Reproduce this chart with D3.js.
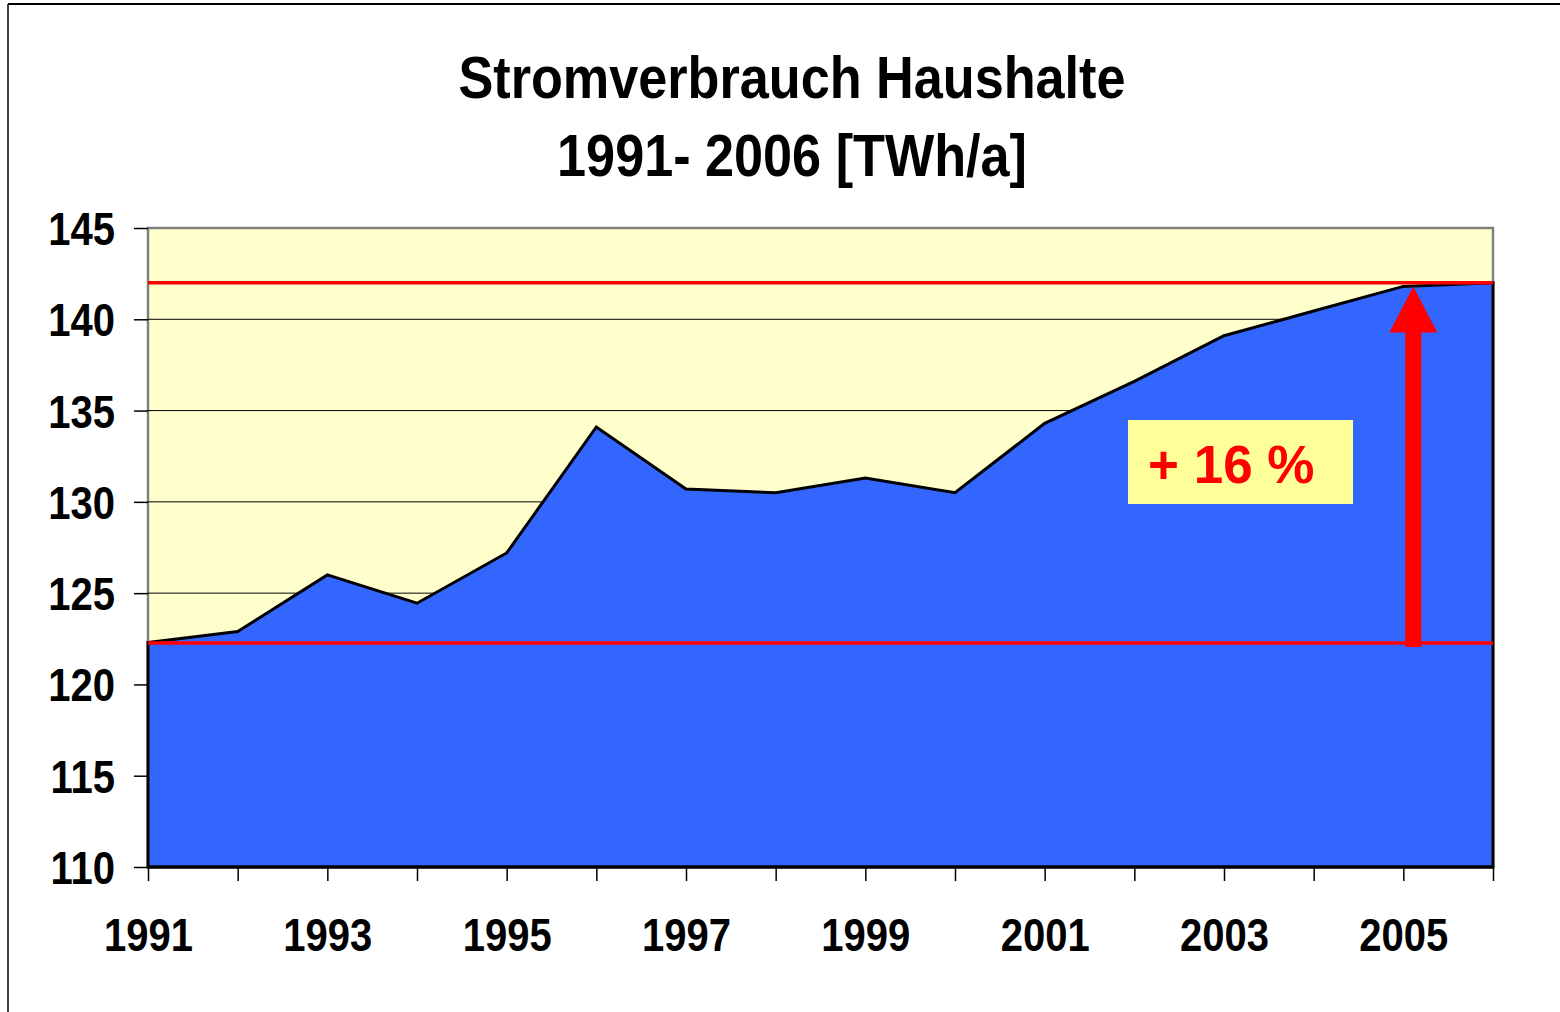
<!DOCTYPE html>
<html>
<head>
<meta charset="utf-8">
<title>Stromverbrauch Haushalte</title>
<script src="https://cdn.jsdelivr.net/npm/d3@7"></script>
<style>
  body { margin: 0; background: #fff; }
  .narrow { font-family: "Liberation Sans Narrow", "Arial Narrow", "Liberation Sans", Arial, sans-serif; font-weight: bold; }
  .axis path { display: none; }
  .axis line { stroke: #000; stroke-width: 1.5; }
  .axis text { fill: #000; }
</style>
</head>
<body>
<script>
// Daten
var years  = [1991, 1992, 1993, 1994, 1995, 1996, 1997, 1998, 1999, 2000, 2001, 2002, 2003, 2004, 2005, 2006];
var values = [122.3, 122.9, 126.0, 124.45, 127.2, 134.1, 130.7, 130.5, 131.3, 130.5, 134.3, 136.6, 139.1, 140.45, 141.8, 142.0];
var yTicks = [110, 115, 120, 125, 130, 135, 140, 145];
var xTickLabels = [1991, 1993, 1995, 1997, 1999, 2001, 2003, 2005];
var refLines = [122.27, 142.0];   // Start- und Endniveau
var titleLines = ["Stromverbrauch Haushalte", "1991- 2006 [TWh/a]"];
var changeLabel = "+ 16 %";

var width = 1560, height = 1012;
var plot = {left: 148, right: 1493, top: 228, bottom: 867};
var squeeze = 0.87;   // schmale Schrift nachbilden

var svg = d3.select("body").append("svg")
    .attr("width", width)
    .attr("height", height);

// Rahmen aussen
svg.append("line").attr("x1", 8).attr("x2", width).attr("y1", 4).attr("y2", 4)
    .attr("stroke", "#000").attr("stroke-width", 2);
svg.append("line").attr("x1", 8).attr("x2", 8).attr("y1", 4).attr("y2", height)
    .attr("stroke", "#000").attr("stroke-width", 1.5);

var x = d3.scaleLinear().domain([1991, 2006]).range([plot.left, plot.right]);
var y = d3.scaleLinear().domain([110, 145]).range([plot.bottom, plot.top]);

// Titel
svg.selectAll("text.title")
    .data(titleLines)
    .enter().append("text")
    .attr("class", "title narrow")
    .attr("transform", function(d, i) {
        return "translate(792," + (98 + i * 78) + ") scale(" + squeeze + ",1)";
    })
    .attr("text-anchor", "middle")
    .attr("font-size", 60)
    .text(function(d) { return d; });

// Hintergrund Plotfläche
svg.append("rect")
    .attr("x", plot.left).attr("y", plot.top)
    .attr("width", plot.right - plot.left).attr("height", plot.bottom - plot.top)
    .attr("fill", "#FFFFCC")
    .attr("stroke", "#808080")
    .attr("stroke-width", 2.5);

// Gitterlinien
svg.selectAll("line.grid")
    .data(yTicks.filter(function(d) { return d > 110 && d < 145; }))
    .enter().append("line")
    .attr("class", "grid")
    .attr("x1", plot.left).attr("x2", plot.right)
    .attr("y1", function(d) { return y(d); })
    .attr("y2", function(d) { return y(d); })
    .attr("stroke", "#000").attr("stroke-width", 1);

// Fläche
var area = d3.area()
    .x(function(d, i) { return x(years[i]); })
    .y0(y(110))
    .y1(function(d) { return y(d); });

svg.append("path")
    .datum(values)
    .attr("d", area)
    .attr("fill", "#3366FF")
    .attr("stroke", "#000")
    .attr("stroke-width", 3)
    .attr("stroke-linejoin", "miter");

// rote Referenzlinien
svg.selectAll("line.ref")
    .data(refLines)
    .enter().append("line")
    .attr("class", "ref")
    .attr("x1", plot.left).attr("x2", plot.right)
    .attr("y1", function(d) { return y(d); })
    .attr("y2", function(d) { return y(d); })
    .attr("stroke", "#FF0000").attr("stroke-width", 3.5);

// Pfeil
var ax = x(2005) + 10;
var yTip = y(values[14]);
var yHead = yTip + 46;
svg.append("rect")
    .attr("x", ax - 8).attr("y", yHead - 1)
    .attr("width", 16).attr("height", y(refLines[0]) + 5 - yHead)
    .attr("fill", "#FF0000");
svg.append("path")
    .attr("d", "M" + (ax - 24) + "," + yHead + "L" + ax + "," + yTip + "L" + (ax + 24) + "," + yHead + "Z")
    .attr("fill", "#FF0000");

// Beschriftung +16 %
svg.append("rect")
    .attr("x", 1128).attr("y", 420)
    .attr("width", 225).attr("height", 84)
    .attr("fill", "#FFFF99");
svg.append("text")
    .attr("x", 1148).attr("y", 483)
    .attr("font-family", "'Liberation Sans', Arial, sans-serif")
    .attr("font-size", 53)
    .attr("font-weight", "bold")
    .attr("fill", "#FF0000")
    .text(changeLabel);

// Achsen
var yAxis = d3.axisLeft(y).tickValues(yTicks).tickSize(14).tickPadding(18);
svg.append("g")
    .attr("class", "axis narrow")
    .attr("transform", "translate(" + plot.left + ",0)")
    .call(yAxis)
    .selectAll("text")
    .attr("font-size", 46)
    .attr("dy", "0.36em")
    .attr("x", -33 / squeeze)
    .attr("transform", "scale(" + squeeze + ",1)");

var xAxis = d3.axisBottom(x)
    .tickValues(years)
    .tickSize(14)
    .tickPadding(37)
    .tickFormat(function(d) { return xTickLabels.indexOf(d) >= 0 ? d : ""; });
svg.append("g")
    .attr("class", "axis narrow")
    .attr("transform", "translate(0," + plot.bottom + ")")
    .call(xAxis)
    .selectAll("text")
    .attr("font-size", 46)
    .attr("dy", "0.72em")
    .attr("transform", "scale(" + squeeze + ",1)");

// x-Achsenlinie
svg.append("line")
    .attr("x1", plot.left).attr("x2", plot.right)
    .attr("y1", plot.bottom).attr("y2", plot.bottom)
    .attr("stroke", "#000").attr("stroke-width", 3);
</script>
</body>
</html>
